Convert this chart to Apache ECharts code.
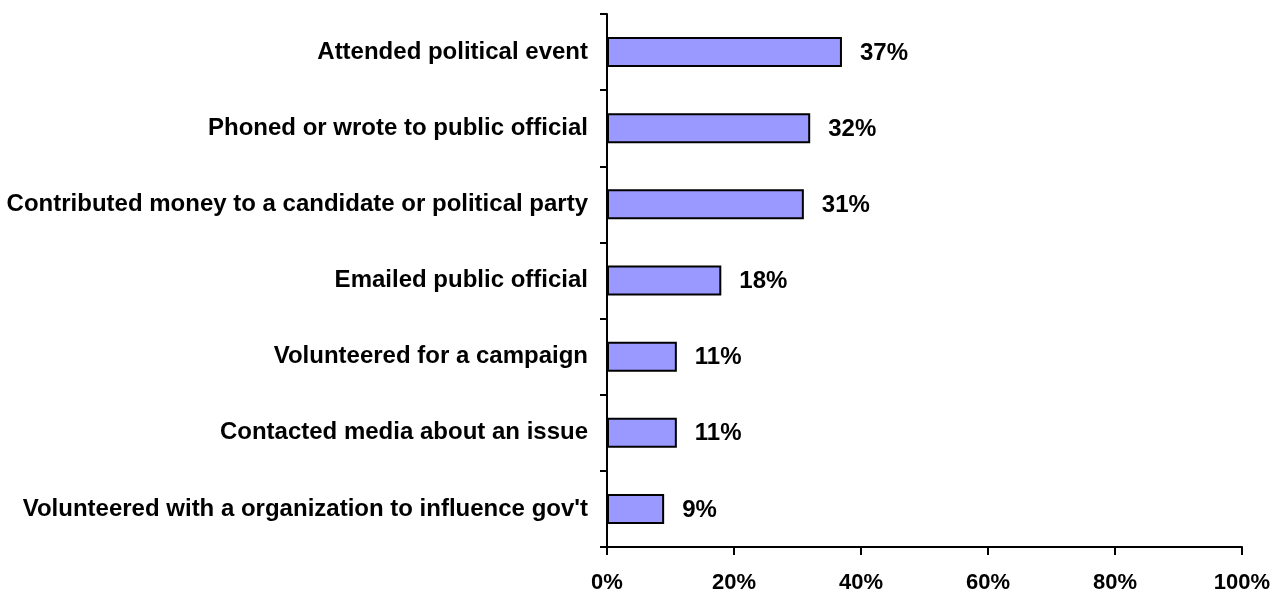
<!DOCTYPE html>
<html>
<head>
<meta charset="utf-8">
<script src="https://cdn.jsdelivr.net/npm/echarts@6/dist/echarts.min.js"></script>
<style>
  html, body { margin: 0; padding: 0; background: #ffffff; }
  #chart { width: 1282px; height: 595px; }
</style>
</head>
<body>
<div id="chart"></div>
<script>
// Political activities and share of respondents who did each one
const categories = [
  'Attended political event',
  'Phoned or wrote to public official',
  'Contributed money to a candidate or political party',
  'Emailed public official',
  'Volunteered for a campaign',
  'Contacted media about an issue',
  "Volunteered with a organization to influence gov't"
];
const shares = [37, 32, 31, 18, 11, 11, 9];
const xTicks = { min: 0, max: 100, step: 20 };

const font = '"Liberation Sans", Arial, Helvetica, sans-serif';

const chart = echarts.init(document.getElementById('chart'), null, { renderer: 'canvas' });
chart.setOption({
  animation: false,
  backgroundColor: '#ffffff',
  grid: { left: 607, right: 40, top: 14, bottom: 48, containLabel: false },
  xAxis: {
    type: 'value',
    min: xTicks.min,
    max: xTicks.max,
    interval: xTicks.step,
    splitLine: { show: false },
    axisLine: { show: true, lineStyle: { color: '#000', width: 2 } },
    axisTick: { show: true, length: 8, inside: false, lineStyle: { color: '#000', width: 2 } },
    axisLabel: {
      margin: 25,
      formatter: '{value}%',
      color: '#000',
      fontFamily: font,
      fontWeight: 'bold',
      fontSize: 22
    }
  },
  yAxis: {
    type: 'category',
    inverse: true,
    data: categories,
    axisLine: { show: true, lineStyle: { color: '#000', width: 2 } },
    axisTick: { show: true, length: 7, lineStyle: { color: '#000', width: 2 } },
    axisLabel: {
      margin: 19,
      color: '#000',
      fontFamily: font,
      fontWeight: 'bold',
      fontSize: 24
    }
  },
  series: [{
    type: 'bar',
    data: shares,
    barWidth: 30,
    itemStyle: { color: '#9999ff', borderColor: '#000', borderWidth: 2 },
    label: {
      show: true,
      position: 'right',
      distance: 18,
      offset: [0, 1],
      formatter: '{c}%',
      color: '#000',
      fontFamily: font,
      fontWeight: 'bold',
      fontSize: 24
    }
  }]
});
</script>
</body>
</html>
